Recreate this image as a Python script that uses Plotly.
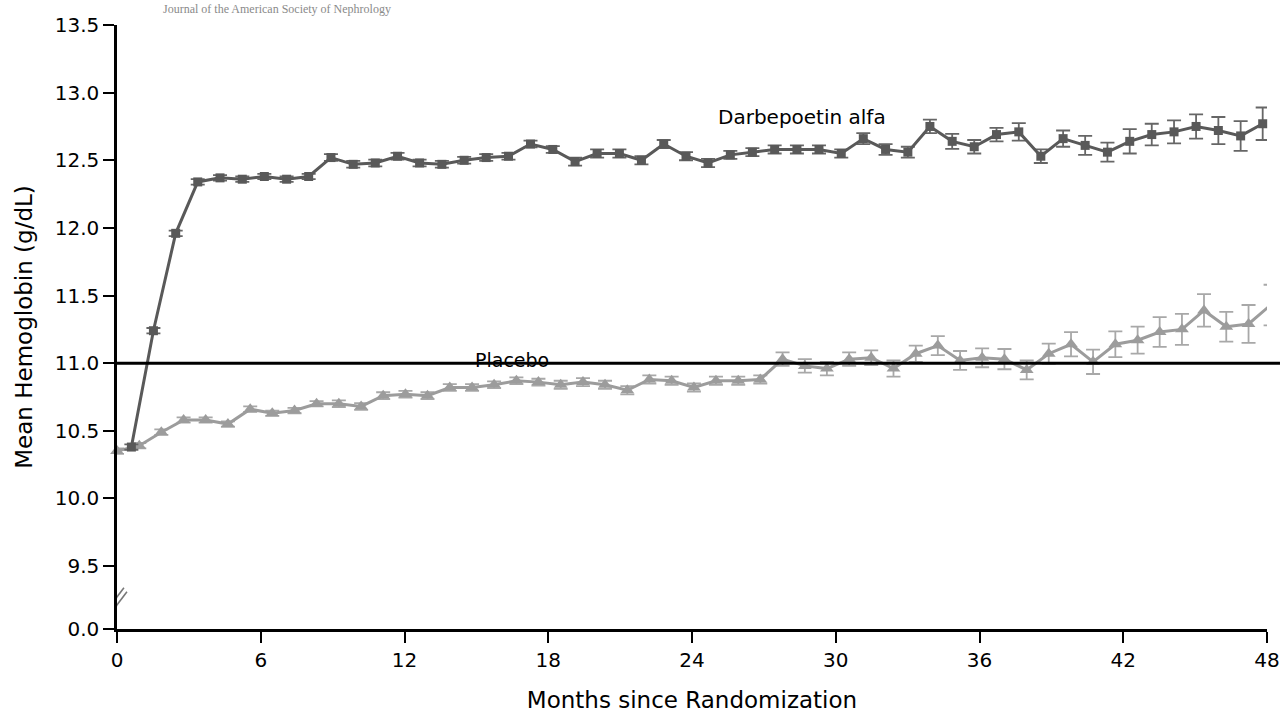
import plotly.graph_objects as go

# ---- data ----
placebo_months = [0.00, 0.93, 1.85, 2.78, 3.70, 4.63, 5.56, 6.48, 7.41, 8.33,
                  9.26, 10.19, 11.11, 12.04, 12.96, 13.89, 14.82, 15.74, 16.67, 17.59,
                  18.52, 19.45, 20.37, 21.30, 22.22, 23.15, 24.08, 25.00, 25.93, 26.85,
                  27.78, 28.71, 29.63, 30.56, 31.48, 32.41, 33.34, 34.26, 35.19, 36.11,
                  37.04, 37.97, 38.89, 39.82, 40.74, 41.67, 42.60, 43.52, 44.45, 45.37,
                  46.30, 47.23, 48.15]
placebo_hb = [10.35, 10.39, 10.49, 10.58, 10.58, 10.55, 10.66, 10.63, 10.65, 10.70,
              10.70, 10.68, 10.76, 10.77, 10.76, 10.82, 10.82, 10.84, 10.87, 10.86,
              10.84, 10.86, 10.84, 10.80, 10.88, 10.87, 10.82, 10.87, 10.87, 10.88,
              11.03, 10.98, 10.96, 11.03, 11.04, 10.96, 11.07, 11.13, 11.02, 11.04,
              11.03, 10.95, 11.07, 11.14, 11.01, 11.14, 11.17, 11.23, 11.25, 11.39,
              11.27, 11.29, 11.43]
placebo_err = [0.02, 0.02, 0.02, 0.02, 0.02, 0.02, 0.02, 0.02, 0.02, 0.02,
               0.025, 0.025, 0.025, 0.025, 0.025, 0.025, 0.025, 0.025, 0.025, 0.025,
               0.03, 0.03, 0.03, 0.03, 0.03, 0.03, 0.03, 0.03, 0.03, 0.03,
               0.05, 0.05, 0.05, 0.05, 0.055, 0.06, 0.06, 0.07, 0.07, 0.07,
               0.075, 0.07, 0.075, 0.09, 0.09, 0.095, 0.10, 0.11, 0.115, 0.12,
               0.11, 0.14, 0.15]

darbe_months = [0.60, 1.52, 2.45, 3.37, 4.30, 5.23, 6.15, 7.08, 8.00, 8.93,
                9.86, 10.78, 11.71, 12.63, 13.56, 14.49, 15.41, 16.34, 17.26, 18.19,
                19.12, 20.04, 20.97, 21.89, 22.82, 23.75, 24.67, 25.60, 26.52, 27.45,
                28.38, 29.30, 30.23, 31.15, 32.08, 33.01, 33.93, 34.86, 35.78, 36.71,
                37.64, 38.56, 39.49, 40.41, 41.34, 42.27, 43.19, 44.12, 45.04, 45.97,
                46.90, 47.82]
darbe_hb = [10.38, 11.24, 11.96, 12.34, 12.37, 12.36, 12.38, 12.36, 12.38, 12.52,
            12.47, 12.48, 12.53, 12.48, 12.47, 12.50, 12.52, 12.53, 12.62, 12.58,
            12.49, 12.55, 12.55, 12.50, 12.62, 12.53, 12.48, 12.54, 12.56, 12.58,
            12.58, 12.58, 12.55, 12.66, 12.58, 12.56, 12.75, 12.64, 12.60, 12.69,
            12.71, 12.53, 12.66, 12.61, 12.56, 12.64, 12.69, 12.71, 12.75, 12.72,
            12.68, 12.77]
darbe_err = [0.02, 0.02, 0.02, 0.02, 0.02, 0.02, 0.02, 0.02, 0.02, 0.025,
             0.025, 0.025, 0.025, 0.025, 0.025, 0.025, 0.025, 0.025, 0.025, 0.025,
             0.03, 0.03, 0.03, 0.03, 0.03, 0.03, 0.03, 0.03, 0.03, 0.03,
             0.03, 0.03, 0.03, 0.04, 0.04, 0.04, 0.05, 0.055, 0.05, 0.05,
             0.065, 0.05, 0.06, 0.07, 0.07, 0.09, 0.08, 0.085, 0.09, 0.10,
             0.11, 0.12]

x_ticks = [0, 6, 12, 18, 24, 30, 36, 42, 48]
y_tick_vals = [9.035, 9.5, 10.0, 10.5, 11.0, 11.5, 12.0, 12.5, 13.0, 13.5]
y_tick_text = ["0.0", "9.5", "10.0", "10.5", "11.0", "11.5", "12.0", "12.5", "13.0", "13.5"]
target_hb = 11.0

FONT = "DejaVu Sans"
DARK = "#595959"
LIGHT = "#9c9c9c"

fig = go.Figure()

fig.add_trace(go.Scatter(
    x=placebo_months, y=placebo_hb, mode="lines+markers", name="Placebo",
    line=dict(color=LIGHT, width=3),
    marker=dict(symbol="triangle-up", size=12, color=LIGHT),
    error_y=dict(type="data", array=placebo_err, color="#a8a8a8", thickness=1.8, width=7),
    cliponaxis=False, showlegend=False))

fig.add_trace(go.Scatter(
    x=darbe_months, y=darbe_hb, mode="lines+markers", name="Darbepoetin alfa",
    line=dict(color=DARK, width=3),
    marker=dict(symbol="square", size=9, color=DARK),
    error_y=dict(type="data", array=darbe_err, color="#666666", thickness=1.8, width=7),
    cliponaxis=False, showlegend=False))

# horizontal reference line at target hemoglobin
fig.add_shape(type="line", xref="paper", yref="y", x0=0.0, x1=1.0113,
              y0=target_hb, y1=target_hb, line=dict(color="black", width=3), layer="above")

# axis break marks
for dx in (0.0, 0.125):
    fig.add_shape(type="line", xref="x", yref="y",
                  x0=-0.42 + dx, y0=9.175 - dx * 0.24, x1=0.29 + dx, y1=9.34 - dx * 0.24,
                  line=dict(color="#777777", width=1.6))

fig.add_annotation(x=28.6, y=12.82, xref="x", yref="y", text="Darbepoetin alfa",
                   showarrow=False, font=dict(family=FONT, size=20, color="black"))
fig.add_annotation(x=16.5, y=11.02, xref="x", yref="y", text="Placebo",
                   showarrow=False, font=dict(family=FONT, size=19, color="black"))

# running header at top left
fig.add_annotation(x=0.24, y=1, xref="paper", yref="paper", xanchor="right", yanchor="bottom",
                   yshift=7, text="Journal of the American Society of Nephrology",
                   showarrow=False, font=dict(family="Liberation Serif", size=12, color="#8a8a8a"))

fig.update_layout(
    width=1280, height=713,
    margin=dict(l=117, r=13, t=25, b=84),
    paper_bgcolor="white", plot_bgcolor="white",
    font=dict(family=FONT, color="black"),
    xaxis=dict(range=[0, 48], tickvals=x_ticks, ticktext=[str(v) for v in x_ticks],
               automargin=False,
               showgrid=False, zeroline=False, showline=True, linecolor="black", linewidth=2.5,
               ticks="outside", ticklen=11, tickwidth=2, tickcolor="black",
               tickfont=dict(family=FONT, size=20),
               title=dict(text="Months since Randomization", font=dict(family=FONT, size=23), standoff=24)),
    yaxis=dict(range=[9.035, 13.5], tickvals=y_tick_vals, ticktext=y_tick_text,
               automargin=False,
               showgrid=False, zeroline=False, showline=True, linecolor="black", linewidth=2.5,
               ticks="outside", ticklen=11, tickwidth=2, tickcolor="black",
               tickfont=dict(family=FONT, size=20),
               title=dict(text="Mean Hemoglobin (g/dL)", font=dict(family=FONT, size=23), standoff=16)),
)

fig.write_html("out.html", config={"displayModeBar": False},
               post_script="document.body.style.margin='0';document.body.style.overflow='hidden';")
